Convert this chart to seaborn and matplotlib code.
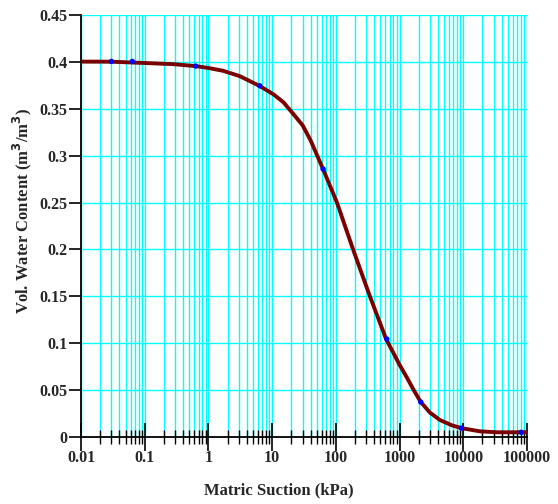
import matplotlib
matplotlib.use("Agg")
import matplotlib.pyplot as plt
import matplotlib.ticker as mticker
import numpy as np
import pandas as pd
import seaborn as sns

# Fitted soil-water characteristic curve (suction in kPa, volumetric water content)
curve_suction = [0.01, 0.03, 0.085, 0.28, 0.63, 1.0, 1.7, 3.1, 6.3, 10.4, 15, 20, 30, 40,
                 63, 80, 103, 188, 344, 614, 1000, 1350, 1700, 2150, 3000, 4300, 6600,
                 9300, 18000, 34000, 100000]
curve_theta = [0.4003, 0.4002, 0.3990, 0.3976, 0.3955, 0.3935, 0.3905, 0.3848, 0.3745,
               0.3656, 0.357, 0.347, 0.3325, 0.3165, 0.2857, 0.2686, 0.2508, 0.1993,
               0.1496, 0.1045, 0.0770, 0.0615, 0.049, 0.0373, 0.026, 0.0181, 0.0125,
               0.0095, 0.0061, 0.0050, 0.0050]

# Measured data points
meas_suction = [0.03, 0.064, 0.63, 6.4, 63, 630, 2150, 9300, 81000]
meas_theta = [0.4005, 0.4005, 0.3955, 0.3745, 0.2857, 0.1045, 0.0373, 0.0095, 0.005]

y_ticks = [0, 0.05, 0.1, 0.15, 0.2, 0.25, 0.3, 0.35, 0.4, 0.45]
y_tick_labels = ["0", "0.05", "0.1", "0.15", "0.2", "0.25", "0.3", "0.35", "0.4", "0.45"]
x_ticks = [0.01, 0.1, 1, 10, 100, 1000, 10000, 100000]
x_tick_labels = ["0.01", "0.1", "1", "10", "100", "1000", "10000", "100000"]

curve_df = pd.DataFrame({"suction": curve_suction, "theta": curve_theta})
meas_df = pd.DataFrame({"suction": meas_suction, "theta": meas_theta})

sns.set_style("white")
plt.rcParams["font.family"] = ["Liberation Serif", "DejaVu Serif"]
plt.rcParams["font.weight"] = "bold"

fig = plt.figure(figsize=(5.58, 5.04), dpi=100)
ax = fig.add_axes([81 / 558, (504 - 437) / 504, 446 / 558, 422 / 504])

ax.set_xscale("log")
ax.set_xlim(0.01, 100000)
ax.set_ylim(0, 0.45)

# Cyan grid at every decade and sub-decade, and at the major y ticks
grid_c = "#00FFFF"
for dec in range(-2, 5):
    for m in range(1, 10):
        ax.axvline(m * 10.0 ** dec, color=grid_c, lw=1.0, zorder=0)
ax.axvline(100000, color=grid_c, lw=1.0, zorder=0)
for yv in y_ticks[1:]:
    ax.axhline(yv, color=grid_c, lw=1.0, zorder=0)

sns.lineplot(data=curve_df, x="suction", y="theta", ax=ax, color="#7A0000",
             lw=2.8, zorder=3, sort=True)
sns.scatterplot(data=meas_df, x="suction", y="theta", ax=ax, color="#0000FF",
                s=15, edgecolor="none", zorder=4)

ax.set_xticks(x_ticks)
ax.set_xticklabels(x_tick_labels)
ax.xaxis.set_minor_locator(mticker.LogLocator(base=10, subs=np.arange(2, 10), numticks=20))
ax.xaxis.set_minor_formatter(mticker.NullFormatter())
ax.set_yticks(y_ticks)
ax.set_yticklabels(y_tick_labels)

ax.tick_params(axis="x", which="major", direction="inout", length=20, width=1.2,
               color="black", labelsize=11.5, pad=-1)
ax.tick_params(axis="x", which="minor", direction="inout", length=10, width=1.0,
               color="black")
ax.tick_params(axis="y", which="major", direction="out", length=9, width=1.2,
               color="black", labelsize=11.5, pad=0.5)
ax.tick_params(bottom=True, left=True, which="both")

for side in ["top", "right"]:
    ax.spines[side].set_visible(False)
for side in ["left", "bottom"]:
    ax.spines[side].set_color("black")
    ax.spines[side].set_linewidth(1.3)

ax.set_xlabel("Matric Suction (kPa)", fontsize=12, fontweight="bold")
ax.set_ylabel("Vol. Water Content (m$^{\\mathbf{3}}$/m$^{\\mathbf{3}}$)", fontsize=12,
              fontweight="bold")
ax.xaxis.set_label_coords((279 - 81) / 446, (437 - 482) / 422)
ax.yaxis.set_label_coords((34 - 81) / 446, (437 - 211) / 422)

for lab in ax.get_xticklabels() + ax.get_yticklabels():
    lab.set_fontweight("bold")

fig.savefig("out.png", dpi=100)
